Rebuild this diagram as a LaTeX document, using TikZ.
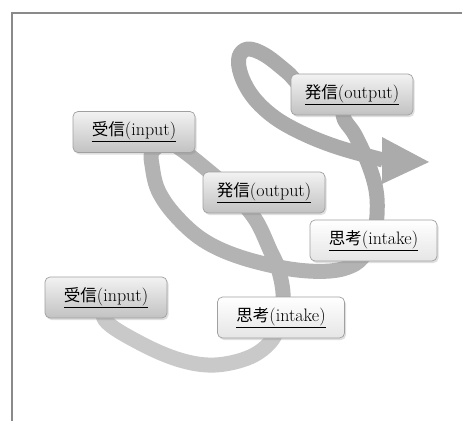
\documentclass[tikz,border=0pt]{standalone}
\usepackage{fontspec}
\newfontfamily\cjk[Scale=0.92]{Noto Sans CJK JP}
\usetikzlibrary{shadows,calc}
\pgfdeclarelayer{bg}
\pgfsetlayers{bg,main}
\definecolor{bandA}{HTML}{C9C9C9}
\definecolor{bandB}{HTML}{B3B3B3}
\definecolor{bandC}{HTML}{ABABAB}
\definecolor{boxline}{HTML}{A0A0A0}
\definecolor{frameline}{HTML}{8A8A8A}
\tikzset{
  box/.style={rounded corners=5pt, draw=boxline, line width=0.7pt,
    minimum height=41pt, inner sep=0pt, font=\fontsize{18}{22}\selectfont,
    drop shadow={opacity=0.25, shadow xshift=1.5pt, shadow yshift=-2pt}},
  darkbox/.style={box, top color=white!95!black, bottom color=white!76!black, minimum width=122pt},
  lightbox/.style={box, top color=white, bottom color=white!90!black, minimum width=127pt},
  band/.style={line width=15pt, line cap=butt, line join=round},
}
\begin{document}
\begin{tikzpicture}[x=1pt,y=-1pt]
\useasboundingbox (0,0) rectangle (462,421);

\node[darkbox]  (in1) at (106,297.5) {\underline{{\cjk 受信}(input)}};
\node[lightbox] (th1) at (281,317.5) {\underline{{\cjk 思考}(intake)}};
\node[darkbox]  (in2) at (134,132)   {\underline{{\cjk 受信}(input)}};
\node[darkbox]  (ou1) at (264,192.5) {\underline{{\cjk 発信}(output)}};
\node[lightbox] (th2) at (373.5,240.5) {\underline{{\cjk 思考}(intake)}};
\node[darkbox]  (ou2) at (352,94.5)  {\underline{{\cjk 発信}(output)}};

\begin{pgfonlayer}{bg}
\fill[white] (0,0) rectangle (462,421);
\draw[frameline, line width=1.2pt] (12,421) -- (12,13) -- (462,13);
\draw[band, bandA] plot[smooth, tension=0.6] coordinates
  {(in1.center) (105,320) (140,343) (180,360) (215,365) (250,357) (272,340) (th1.center)};
\draw[band, bandB] plot[smooth, tension=0.6] coordinates
  {(th1.center) (283,293) (278,268) (270,250) (257,222) (240,200) (225,185) (205,168) (185,152) (170,142)};
\draw[band, bandB] plot[smooth, tension=0.6] coordinates
  {(in2.center) (162,140) (152,152) (152,165) (158,190) (175,215) (203,240) (240,257) (290,269) (330,271) (355,264) (368,250) (th2.center)};
\draw[band, bandC] plot[smooth, tension=0.6] coordinates
  {(th2.center) (377,215) (376,190) (368,163) (355,135) (343,115) (ou2.center)};
\draw[band, bandC] plot[smooth, tension=0.6] coordinates
  {(ou2.center) (310,92) (287,72) (265,55) (248,49) (239,57) (241,75) (253,97) (274,117) (302,133) (337,147) (383,160)};
\coordinate (tip) at (429,162);
\fill[bandC] (382,137) -- (tip) -- (382,184) -- cycle;
\end{pgfonlayer}
\end{tikzpicture}
\end{document}
